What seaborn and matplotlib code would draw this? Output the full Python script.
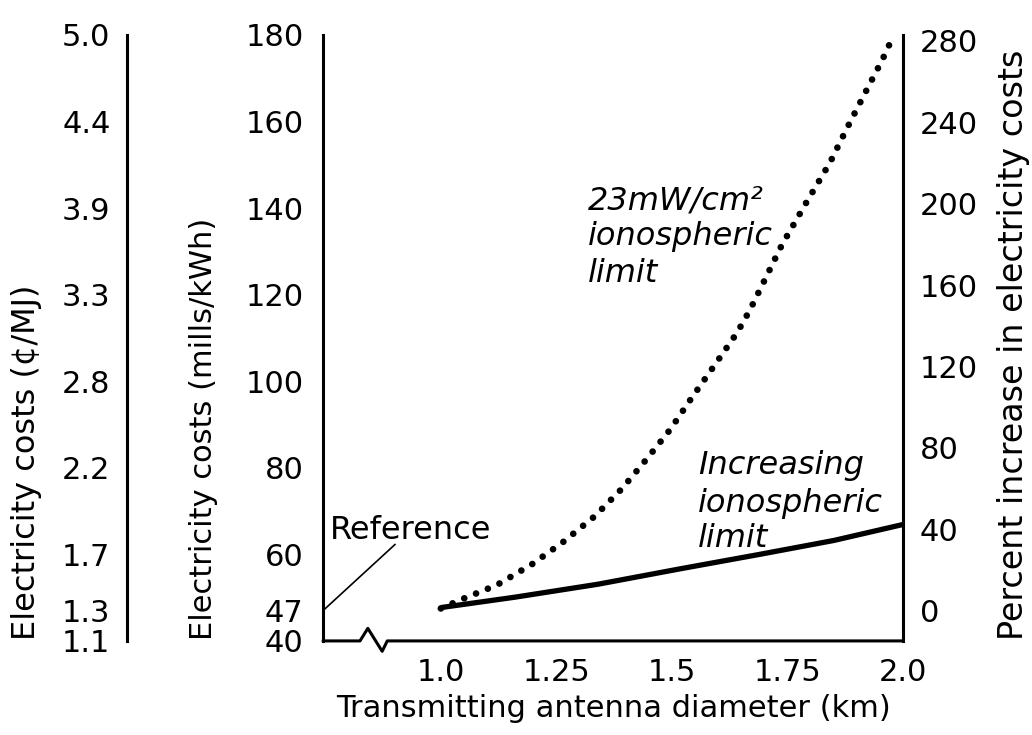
import matplotlib
matplotlib.use("Agg")
import matplotlib.pyplot as plt
import seaborn as sns

# 23 mW/cm2 ionospheric limit curve (dotted)
limit_diameter = [1.0, 1.045, 1.121, 1.197, 1.264, 1.333, 1.392, 1.446, 1.496,
                  1.545, 1.593, 1.641, 1.669, 1.738, 1.792, 1.842, 1.879, 1.918,
                  1.955, 1.978]
limit_cost = [47.5, 49.6, 52.9, 57.7, 62.8, 68.8, 75.2, 82.1, 88.8,
              96.5, 103.8, 111.2, 116.5, 131.5, 141.5, 150.5, 158.5, 166.6,
              174.2, 179.5]

# increasing ionospheric limit curve (solid)
increasing_diameter = [1.0, 1.16, 1.34, 1.52, 1.69, 1.85, 2.0]
increasing_cost = [47.7, 50.1, 53.1, 56.7, 60.0, 63.2, 66.9]

reference_cost = 47
mills_ticks = [40, 47, 60, 80, 100, 120, 140, 160, 180]
cents_labels = ["1.1", "1.3", "1.7", "2.2", "2.8", "3.3", "3.9", "4.4", "5.0"]
percent_ticks = [0, 40, 80, 120, 160, 200, 240, 280]
x_ticks = [1.0, 1.25, 1.5, 1.75, 2.0]
x_tick_labels = ["1.0", "1.25", "1.5", "1.75", "2.0"]

# broken x axis line and reference pointer
break_x = [0.745, 0.825, 0.842, 0.873, 0.884, 2.0]
break_y = [40, 40, 42.9, 37.6, 40, 40]
pointer_x = [0.745, 0.901]
pointer_y = [47, 62.3]

limit_lines = ["23mW/cm²", "ionospheric", "limit"]
limit_baselines = [139.6, 131.5, 123.0]
increasing_lines = ["Increasing", "ionospheric", "limit"]
increasing_baselines = [78.5, 69.7, 61.8]


def to_percent(mills):
    return (mills / reference_cost - 1) * 100


sns.set_theme(style="white")
plt.rcParams['font.family'] = ['DejaVu Sans']
plt.rcParams['text.color'] = 'black'

fig = plt.figure(figsize=(10.32, 7.35), dpi=100)
ax = fig.add_axes([0.313, 0.128, 0.562, 0.8245])

sns.lineplot(x=increasing_diameter, y=increasing_cost, ax=ax, color="black",
             linewidth=3.8, solid_capstyle="butt")
sns.lineplot(x=limit_diameter, y=limit_cost, ax=ax, color="black",
             linewidth=4.8, linestyle=(0, (0.01, 1.9)), dash_capstyle="round")
ax.plot(break_x, break_y, color="black", linewidth=2.2, clip_on=False)
ax.plot(pointer_x, pointer_y, color="black", linewidth=1.2)

ax.set_xlim(0.745, 2.0)
ax.set_ylim(40, 180)
ax.set_xticks(x_ticks)
ax.set_xticklabels(x_tick_labels)
ax.set_yticks(mills_ticks)
ax.set_yticklabels([str(t) for t in mills_ticks])
for side in ["top", "right", "bottom"]:
    ax.spines[side].set_visible(False)
ax.spines["left"].set_color("black")
ax.spines["left"].set_linewidth(2.2)
ax.tick_params(axis="y", direction="inout", length=6, width=2, color="white",
               labelsize=22, pad=11, labelcolor="black")
ax.tick_params(axis="x", direction="inout", length=6, width=2, color="white",
               labelsize=22, pad=9, labelcolor="black")
ax.set_xlabel("Transmitting antenna diameter (km)", fontsize=22, labelpad=5,
              color="black")

ax.text(0.76, 63.5, "Reference", fontsize=23, va="baseline", color="black")
for line, y in zip(limit_lines, limit_baselines):
    ax.text(1.318, y, line, fontsize=23, style="italic", va="baseline",
            color="black")
for line, y in zip(increasing_lines, increasing_baselines):
    ax.text(1.556, y, line, fontsize=23, style="italic", va="baseline",
            color="black")

# percent axis on the right
axr = ax.twinx()
axr.set_ylim(to_percent(40), to_percent(180))
axr.set_yticks(percent_ticks)
axr.set_yticklabels([str(t) for t in percent_ticks])
for side in ["top", "left", "bottom"]:
    axr.spines[side].set_visible(False)
axr.spines["right"].set_color("black")
axr.spines["right"].set_linewidth(2.2)
axr.tick_params(axis="y", direction="inout", length=6, width=2, color="white",
                labelsize=22, pad=9, labelcolor="black")

# cents per MJ axis, far left
axc = ax.twinx()
axc.yaxis.tick_left()
axc.spines["left"].set_position(("outward", 141))
for side in ["top", "right", "bottom"]:
    axc.spines[side].set_visible(False)
axc.spines["left"].set_visible(True)
axc.spines["left"].set_color("black")
axc.spines["left"].set_linewidth(2.2)
axc.set_ylim(40, 180)
axc.set_yticks(mills_ticks)
axc.set_yticklabels(cents_labels)
axc.tick_params(axis="y", direction="inout", length=6, width=2, color="white",
                labelsize=22, pad=9, labelcolor="black")

fig.text(204 / 1032, 0.129, "Electricity costs (mills/kWh)", rotation=90,
         ha="center", va="bottom", fontsize=22, color="black")
fig.text(27 / 1032, 0.129, "Electricity costs (¢/MJ)", rotation=90,
         ha="center", va="bottom", fontsize=23, color="black")
fig.text(1013 / 1032, 0.129, "Percent increase in electricity costs",
         rotation=90, ha="center", va="bottom", fontsize=24, color="black")

fig.savefig("out.png", dpi=100, facecolor="white")
